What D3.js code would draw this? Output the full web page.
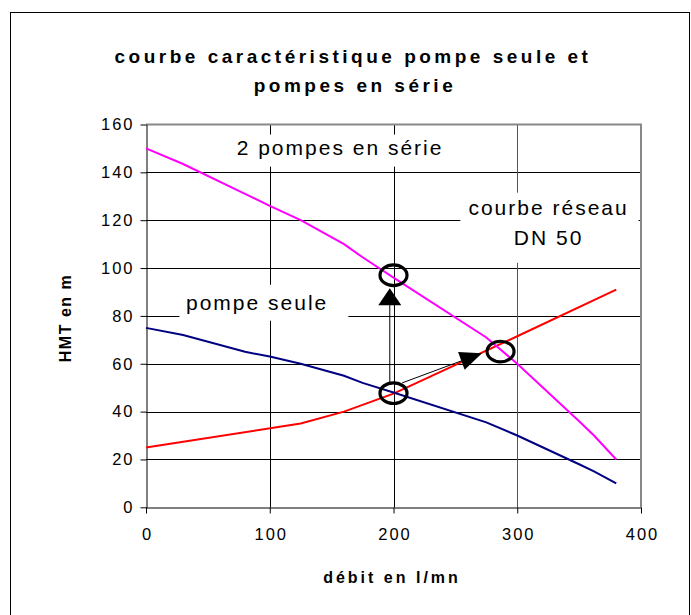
<!DOCTYPE html>
<html>
<head>
<meta charset="utf-8">
<script src="https://cdn.jsdelivr.net/npm/d3@7"></script>
<style>
  body { margin: 0; background: #fff; }
  svg { display: block; font-family: "Liberation Sans", Arial, sans-serif; }
</style>
</head>
<body>
<div class="vis-courbes"></div>
<script>
// debits (l/mn) and heads (m)
const debit = [0, 30, 80, 100, 125, 160, 175, 200, 275, 300, 350, 362, 380];
const pompeSeule = [75, 72, 65, 63, 60, 55, 52, 48, 35.5, 30, 18, 15, 10];
const deuxPompes = [150, 143.5, 131, 126, 120, 110, 104.5, 96, 71, 60, 36, 30, 20];
const debitReseau = [0, 125, 160, 200, 300, 380];
const hmtReseau = [25, 35, 40, 47.5, 71.5, 91];
const xTicks = [0, 100, 200, 300, 400];
const yTicks = [0, 20, 40, 60, 80, 100, 120, 140, 160];

// operating points (circled) and arrows, in data units
const pointsFonct = [[200, 97], [200, 47.7], [286.5, 65.1]];
const fleches = [
  {from: [197, 52], to: [197, 91.6]},
  {from: [207, 52], to: [271.5, 64.4]}
];

const draw = () => {
  const W = 691, H = 615;
  const left = 146, right = 641, top = 124.5, bottom = 507.3;

  const svg = d3.select('.vis-courbes').append('svg')
      .attr('width', W)
      .attr('height', H);

  // chart border
  svg.append('rect')
      .attr('x', 10.5).attr('y', 12.5)
      .attr('width', 679).attr('height', 640)
      .attr('fill', 'none').attr('stroke', '#000');

  const x = d3.scaleLinear().domain([0, 400]).range([left, right]);
  const y = d3.scaleLinear().domain([0, 160]).range([bottom, top]);

  // title
  const title = svg.append('text')
      .attr('text-anchor', 'middle')
      .style('font-weight', 'bold')
      .style('font-size', '19px')
      .style('letter-spacing', '3.5px');
  title.append('tspan').attr('x', 353).attr('y', 63).text('courbe caractéristique pompe seule et');
  title.append('tspan').attr('x', 355).attr('y', 92).text('pompes en série');

  // grid
  svg.append('g').selectAll('line')
      .data(yTicks.filter(d => d > 0 && d < 160))
      .enter().append('line')
      .attr('x1', left).attr('x2', right)
      .attr('y1', d => Math.round(y(d)) + 0.5).attr('y2', d => Math.round(y(d)) + 0.5)
      .attr('stroke', '#000');
  svg.append('g').selectAll('line')
      .data(xTicks.filter(d => d > 0 && d < 400))
      .enter().append('line')
      .attr('y1', top).attr('y2', bottom)
      .attr('x1', d => Math.round(x(d)) + 0.5).attr('x2', d => Math.round(x(d)) + 0.5)
      .attr('stroke', d => d === 300 ? '#555' : '#000');

  // plot area border (top / right)
  svg.append('path')
      .attr('d', `M${left},${top}H${right}V${bottom}`)
      .attr('fill', 'none').attr('stroke', '#888').attr('stroke-width', 2);

  // text boxes (white, hiding the grid)
  const boites = [
    {x0: 68, x1: 242, y0: 155.8, y1: 142.4, lignes: ['2 pompes en série'], cx: 156, base: [147.3]},
    {x0: 27, x1: 163.5, y0: 93, y1: 78, lignes: ['pompe seule'], cx: 89, base: [82.4]},
    {x0: 254, x1: 398, y0: 131.5, y1: 102.2, lignes: ['courbe réseau', 'DN 50'], cx: 324.5, base: [122.3, 109.8]}
  ];
  boites.forEach(b => {
    svg.append('rect')
        .attr('x', x(b.x0)).attr('y', y(b.y0))
        .attr('width', x(b.x1) - x(b.x0)).attr('height', y(b.y1) - y(b.y0))
        .attr('fill', '#fff');
    b.lignes.forEach((t, i) => {
      svg.append('text')
          .attr('x', x(b.cx) + 1).attr('y', y(b.base[i]))
          .attr('text-anchor', 'middle')
          .style('font-size', '21px')
          .style('letter-spacing', '2px')
          .text(t);
    });
  });

  // axes
  const ax = svg.append('g')
      .attr('transform', `translate(0,${Math.round(bottom) + 0.5})`)
      .call(d3.axisBottom(x).tickValues(xTicks).tickSize(6).tickSizeOuter(0).tickPadding(15));
  const ay = svg.append('g')
      .attr('transform', `translate(${Math.round(left) + 0.5},0)`)
      .call(d3.axisLeft(y).tickValues(yTicks).tickSize(6).tickSizeOuter(0).tickPadding(6));
  [ax, ay].forEach(g => {
    g.select('.domain').attr('stroke', '#000');
    g.selectAll('.tick line').attr('stroke', '#000');
    g.selectAll('.tick text')
        .attr('fill', '#000')
        .style('font-family', '"Liberation Sans", Arial, sans-serif')
        .style('font-size', '16.5px')
        .style('letter-spacing', '2px');
  });
  ax.selectAll('.tick text').attr('dx', '1px');

  svg.append('text')
      .attr('x', 392).attr('y', 583)
      .attr('text-anchor', 'middle')
      .style('font-weight', 'bold').style('font-size', '16px').style('letter-spacing', '3px')
      .text('débit en l/mn');
  svg.append('text')
      .attr('transform', 'translate(71,318) rotate(-90)')
      .attr('text-anchor', 'middle')
      .style('font-weight', 'bold').style('font-size', '16px').style('letter-spacing', '1.5px')
      .text('HMT en m');

  // curves
  const line = d3.line().x(d => x(d[0])).y(d => y(d[1]));
  const series = [
    {xs: debitReseau, ys: hmtReseau, color: '#ff0000'},
    {xs: debit, ys: pompeSeule, color: '#000080'},
    {xs: debit, ys: deuxPompes, color: '#ff00ff'}
  ];
  series.forEach(s => {
    svg.append('path')
        .datum(s.xs.map((d, i) => [d, s.ys[i]]))
        .attr('d', line)
        .attr('fill', 'none')
        .attr('stroke', s.color)
        .attr('stroke-width', 2);
  });

  // arrows
  fleches.forEach((f, i) => {
    const x1 = x(f.from[0]), y1 = y(f.from[1]);
    const x2 = x(f.to[0]), y2 = y(f.to[1]);
    const len = Math.hypot(x2 - x1, y2 - y1);
    const ux = (x2 - x1) / len, uy = (y2 - y1) / len;
    const hl = i === 0 ? 17 : 22, hw = i === 0 ? 11.5 : 9.5;
    const bx = x2 - ux * hl, by = y2 - uy * hl;
    svg.append('line')
        .attr('x1', x1).attr('y1', y1).attr('x2', bx).attr('y2', by)
        .attr('stroke', '#000').attr('stroke-width', 1);
    svg.append('path')
        .attr('d', `M${x2},${y2}L${bx - uy * hw},${by + ux * hw}L${bx + uy * hw},${by - ux * hw}Z`)
        .attr('fill', '#000');
  });

  // circled operating points
  svg.append('g').selectAll('ellipse')
      .data(pointsFonct)
      .enter().append('ellipse')
      .attr('cx', d => x(d[0])).attr('cy', d => y(d[1]))
      .attr('rx', 13.5).attr('ry', 10.3)
      .attr('fill', 'none').attr('stroke', '#000').attr('stroke-width', 3.2);
};

draw();
</script>
</body>
</html>
